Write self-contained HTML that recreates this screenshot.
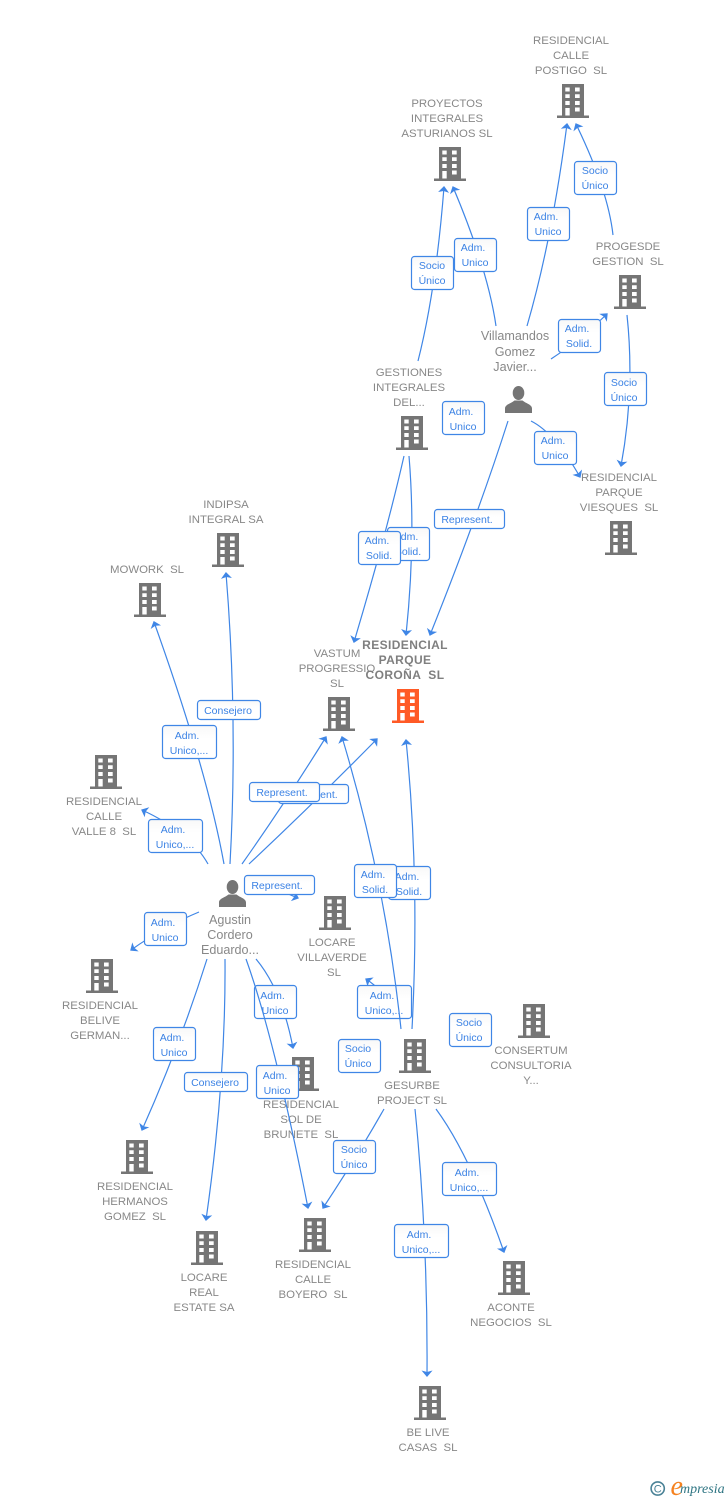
<!DOCTYPE html>
<html lang="es">
<head>
<meta charset="utf-8">
<title>Diagrama</title>
<style>
html,body{margin:0;padding:0;background:#fff;width:728px;height:1500px;overflow:hidden}
svg{display:block}
text{font-family:"Liberation Sans",Arial,sans-serif;white-space:pre}
.n text,.n{fill:#888;font-size:11.4px;text-anchor:middle}
.p{fill:#888;font-size:12.6px;text-anchor:middle}
.c{fill:#7f7f7f;font-size:12px;font-weight:bold;letter-spacing:.4px;text-anchor:middle}
.l path{fill:none;stroke:#3f86e6;stroke-width:1.2;marker-end:url(#a)}
.b rect{fill:url(#g);stroke:#3f86e6;stroke-width:1.2}
.b text{fill:#3b82e4;font-size:10.5px;text-anchor:middle}
</style>
</head>
<body>
<svg xmlns="http://www.w3.org/2000/svg" width="728" height="1500" viewBox="0 0 728 1500">
<defs>
<linearGradient id="g" x1="0" y1="0" x2="0" y2="1"><stop offset="0" stop-color="#f8f8f8"/><stop offset=".4" stop-color="#fff"/><stop offset="1" stop-color="#fff"/></linearGradient>
<marker id="a" markerUnits="userSpaceOnUse" markerWidth="16" markerHeight="16" viewBox="-8 -8 16 16" refX="0" refY="0" orient="auto" overflow="visible">
<path d="M1 0L-5.500 5.500L-4 0L-5.500 -5.500Z" fill="#3f86e6" stroke="none"/>
</marker>
<symbol id="h" width="32" height="34" viewBox="0 0 32 34" overflow="visible">
<path fill-rule="evenodd" d="M5 0H27V31.500H32V34H0V31.500H5ZM8.300 3.500V7.500H12.700V3.500ZM18 3.500V7.500H22.700V3.500ZM8.300 10.200V14H12.700V10.200ZM18 10.200V14H22.700V10.200ZM8.300 17V21H12.700V17ZM18 17V21H22.700V17ZM8.300 24V31.500H12.700V24ZM18 23.500V27.500H22.700V23.500Z"/>
</symbol>
<symbol id="u" width="27" height="27" viewBox="0 0 27 27">
<ellipse cx="13.5" cy="7" rx="5.8" ry="7"/>
<path d="M0 27V22.5C0 18.5 6 17.5 9.5 14.5H17.5C21 17.5 27 18.5 27 22.5V27Z"/>
</symbol>
</defs>

<g fill="#757575">
<use href="#h" x="557" y="84"/>
<use href="#h" x="434" y="147"/>
<use href="#h" x="614" y="275"/>
<use href="#h" x="396" y="416"/>
<use href="#h" x="605" y="521"/>
<use href="#h" x="212" y="533"/>
<use href="#h" x="134" y="583"/>
<use href="#h" x="323" y="697"/>
<use href="#h" x="90" y="755"/>
<use href="#h" x="319" y="896"/>
<use href="#h" x="287" y="1057"/>
<use href="#h" x="399" y="1039"/>
<use href="#h" x="518" y="1004"/>
<use href="#h" x="86" y="959"/>
<use href="#h" x="121" y="1140"/>
<use href="#h" x="191" y="1231"/>
<use href="#h" x="299" y="1218"/>
<use href="#h" x="498" y="1261"/>
<use href="#h" x="414" y="1386"/>
<use href="#u" x="505" y="386"/>
<use href="#u" x="219" y="880"/>
</g>
<use href="#h" x="392" y="689" fill="#ff5a26"/>

<g class="n">
<text x="571" y="44">RESIDENCIAL</text><text x="571" y="59">CALLE</text><text x="571" y="74">POSTIGO  SL</text>
<text x="447" y="107">PROYECTOS</text><text x="447" y="122">INTEGRALES</text><text x="447" y="137">ASTURIANOS SL</text>
<text x="628" y="250">PROGESDE</text><text x="628" y="265">GESTION  SL</text>
<text x="409" y="376">GESTIONES</text><text x="409" y="391">INTEGRALES</text><text x="409" y="406">DEL...</text>
<text x="619" y="481">RESIDENCIAL</text><text x="619" y="496">PARQUE</text><text x="619" y="511">VIESQUES  SL</text>
<text x="226" y="508">INDIPSA</text><text x="226" y="523">INTEGRAL SA</text>
<text x="147" y="573">MOWORK  SL</text>
<text x="337" y="657">VASTUM</text><text x="337" y="672">PROGRESSIO</text><text x="337" y="687">SL</text>
<text x="104" y="805">RESIDENCIAL</text><text x="104" y="820">CALLE</text><text x="104" y="835">VALLE 8  SL</text>
<text x="332" y="946">LOCARE</text><text x="332" y="961">VILLAVERDE</text><text x="334" y="976">SL</text>
<text x="301" y="1108">RESIDENCIAL</text><text x="301" y="1123">SOL DE</text><text x="301" y="1138">BRUNETE  SL</text>
<text x="412" y="1089">GESURBE</text><text x="412" y="1104">PROJECT SL</text>
<text x="531" y="1054">CONSERTUM</text><text x="531" y="1069">CONSULTORIA</text><text x="531" y="1084">Y...</text>
<text x="100" y="1009">RESIDENCIAL</text><text x="100" y="1024">BELIVE</text><text x="100" y="1039">GERMAN...</text>
<text x="135" y="1190">RESIDENCIAL</text><text x="135" y="1205">HERMANOS</text><text x="135" y="1220">GOMEZ  SL</text>
<text x="204" y="1281">LOCARE</text><text x="204" y="1296">REAL</text><text x="204" y="1311">ESTATE SA</text>
<text x="313" y="1268">RESIDENCIAL</text><text x="313" y="1283">CALLE</text><text x="313" y="1298">BOYERO  SL</text>
<text x="511" y="1311">ACONTE</text><text x="511" y="1326">NEGOCIOS  SL</text>
<text x="428" y="1436">BE LIVE</text><text x="428" y="1451">CASAS  SL</text>
</g>
<g class="p">
<text x="515" y="340">Villamandos</text><text x="515" y="356">Gomez</text><text x="515" y="371">Javier...</text>
<text x="230" y="924">Agustin</text><text x="230" y="939">Cordero</text><text x="230" y="954">Eduardo...</text>
</g>
<g class="c">
<text x="405" y="649">RESIDENCIAL</text><text x="405" y="664">PARQUE</text><text x="405" y="679">COROÑA  SL</text>
</g>

<g class="l">
<path d="M527 326Q552 240 567 124"/>
<path d="M613 235Q608 190 576 124"/>
<path d="M496 326Q488 270 453 187"/>
<path d="M418 361Q436 290 444 187"/>
<path d="M551 359Q580 340 607 314"/>
<path d="M627 315Q635 390 621 466"/>
<path d="M531 421Q555 433 580 477"/>
<path d="M508 421Q478 515 430 635"/>
<path d="M409 456Q416 540 406 635"/>
<path d="M404 456Q386 535 354 642"/>
<path d="M224 864Q207 770 154 622"/>
<path d="M230 864Q238 720 226 573"/>
<path d="M208 864Q190 832 142 810"/>
<path d="M242 864Q285 803 326 737"/>
<path d="M249 864Q315 802 377 739"/>
<path d="M270 885Q285 893 298 898"/>
<path d="M199 912Q165 926 131 950"/>
<path d="M207 959Q180 1045 142 1130"/>
<path d="M225 959Q226 1080 206 1220"/>
<path d="M256 959Q282 990 293 1048"/>
<path d="M384 1109Q358 1155 323 1208"/>
<path d="M436 1109Q470 1155 504 1252"/>
<path d="M415 1109Q428 1240 427 1376"/>
<path d="M385 995Q375 985 366 979"/>
</g>

<g class="b">
<rect x="254.500" y="985.500" width="42" height="33" rx="3"/><text x="272.500" y="999">Adm.</text><text x="275" y="1014">Unico</text>
<rect x="357.500" y="985.500" width="54" height="33" rx="3"/><text x="382" y="999">Adm.</text><text x="384" y="1014">Unico,...</text>
</g>

<g class="l">
<path d="M246 959Q275 1040 308 1208"/>
<path d="M401 1029Q385 880 342 737"/>
<path d="M412 1029Q420 880 406 740"/>
</g>

<g class="b">
<rect x="574.500" y="161.500" width="42" height="33" rx="3"/><text x="595" y="174">Socio</text><text x="595" y="189">Único</text>
<rect x="527.500" y="207.500" width="42" height="33" rx="3"/><text x="546" y="220">Adm.</text><text x="548" y="235">Unico</text>
<rect x="454.500" y="238.500" width="42" height="33" rx="3"/><text x="473" y="251">Adm.</text><text x="475" y="266">Unico</text>
<rect x="411.500" y="256.500" width="42" height="33" rx="3"/><text x="432" y="269">Socio</text><text x="432" y="284">Único</text>
<rect x="558.500" y="319.500" width="42" height="33" rx="3"/><text x="577" y="332">Adm.</text><text x="579" y="347">Solid.</text>
<rect x="604.500" y="372.500" width="42" height="33" rx="3"/><text x="624" y="386">Socio</text><text x="624" y="401">Único</text>
<rect x="442.500" y="401.500" width="42" height="33" rx="3"/><text x="461" y="415">Adm.</text><text x="463" y="430">Unico</text>
<rect x="534.500" y="431.500" width="42" height="33" rx="3"/><text x="553" y="444">Adm.</text><text x="555" y="459">Unico</text>
<rect x="434.500" y="509.500" width="70" height="19" rx="3"/><text x="467" y="523">Represent.</text>
<rect x="387.500" y="527.500" width="42" height="33" rx="3"/><text x="406" y="540">Adm.</text><text x="408" y="555">Solid.</text>
<rect x="358.500" y="531.500" width="42" height="33" rx="3"/><text x="377" y="544">Adm.</text><text x="379" y="559">Solid.</text>
<rect x="197.500" y="700.500" width="63" height="19" rx="3"/><text x="228" y="714">Consejero</text>
<rect x="162.500" y="725.500" width="54" height="33" rx="3"/><text x="187" y="739">Adm.</text><text x="189" y="754">Unico,...</text>
<rect x="148.500" y="819.500" width="54" height="33" rx="3"/><text x="173" y="833">Adm.</text><text x="175" y="848">Unico,...</text>
<rect x="278.500" y="784.500" width="70" height="19" rx="3"/><text x="312" y="798">Represent.</text>
<rect x="249.500" y="782.500" width="70" height="19" rx="3"/><text x="282" y="796">Represent.</text>
<rect x="244.500" y="875.500" width="70" height="19" rx="3"/><text x="277" y="889">Represent.</text>
<rect x="144.500" y="912.500" width="42" height="33" rx="3"/><text x="163" y="926">Adm.</text><text x="165" y="941">Unico</text>
<rect x="388.500" y="866.500" width="42" height="33" rx="3"/><text x="407" y="880">Adm.</text><text x="409" y="895">Solid.</text>
<rect x="354.500" y="864.500" width="42" height="33" rx="3"/><text x="373" y="878">Adm.</text><text x="375" y="893">Solid.</text>
<rect x="338.500" y="1039.500" width="42" height="33" rx="3"/><text x="358" y="1052">Socio</text><text x="358" y="1067">Único</text>
<rect x="449.500" y="1013.500" width="42" height="33" rx="3"/><text x="469" y="1026">Socio</text><text x="469" y="1041">Único</text>
<rect x="256.500" y="1065.500" width="42" height="33" rx="3"/><text x="275" y="1079">Adm.</text><text x="277" y="1094">Unico</text>
<rect x="333.500" y="1140.500" width="42" height="33" rx="3"/><text x="354" y="1153">Socio</text><text x="354" y="1168">Único</text>
<rect x="153.500" y="1027.500" width="42" height="33" rx="3"/><text x="172" y="1041">Adm.</text><text x="174" y="1056">Unico</text>
<rect x="184.500" y="1072.500" width="63" height="19" rx="3"/><text x="215" y="1086">Consejero</text>
<rect x="442.500" y="1162.500" width="54" height="33" rx="3"/><text x="467" y="1176">Adm.</text><text x="469" y="1191">Unico,...</text>
<rect x="394.500" y="1224.500" width="54" height="33" rx="3"/><text x="419" y="1238">Adm.</text><text x="421" y="1253">Unico,...</text>
</g>

<g>
<circle cx="657.700" cy="1488.500" r="6.600" fill="none" stroke="#4a8296" stroke-width="1.600"/>
<text x="657.700" y="1492.500" text-anchor="middle" font-size="11" fill="#4a8296">C</text>
<text x="670.500" y="1495" font-size="28" font-style="italic" fill="#f58220" style="font-family:'Liberation Serif',serif">e</text>
<text x="680" y="1493" font-size="14" font-style="italic" fill="#2f7583" style="font-family:'Liberation Serif',serif">mpresia</text>
</g>
</svg>
</body>
</html>
